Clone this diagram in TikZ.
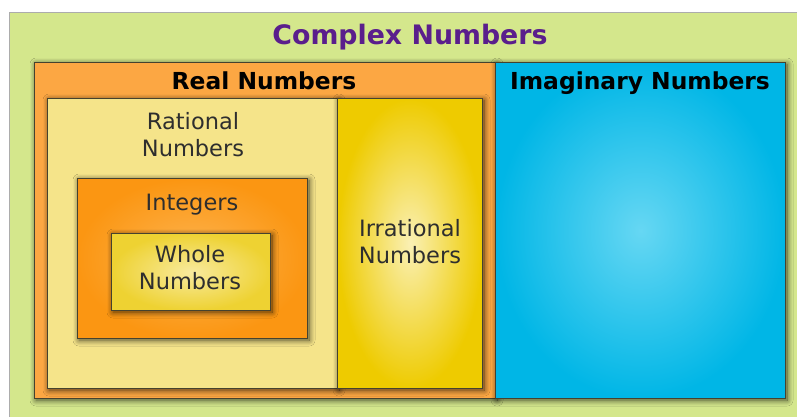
\documentclass[tikz,border=0pt]{standalone}
\usepackage{fontspec}
\setmainfont{DejaVu Sans}
\usetikzlibrary{shadows.blur}
\definecolor{cgreen}{HTML}{D4E78C}
\definecolor{corange}{HTML}{FCA743}
\definecolor{cblueout}{HTML}{00B6E6}
\definecolor{cbluein}{HTML}{66D7F3}
\definecolor{crational}{HTML}{F5E48A}
\definecolor{cirrout}{HTML}{EECB00}
\definecolor{cirrin}{HTML}{FAF0B4}
\definecolor{cintout}{HTML}{FB9612}
\definecolor{cintin}{HTML}{FDB451}
\definecolor{cwholeout}{HTML}{EED232}
\definecolor{cwholein}{HTML}{F8EA9E}
\definecolor{cpurple}{HTML}{5A1E8C}
\definecolor{boxline}{HTML}{45422F}
\definecolor{labeltext}{HTML}{2E2E2E}
\begin{document}
\begin{tikzpicture}[x=1pt,y=-1pt,
  box/.style={draw=boxline, line width=1.1pt, rectangle, anchor=north west, inner sep=0pt,
    blur shadow={shadow xshift=1.5pt, shadow yshift=-1.5pt, shadow blur radius=6pt,
      shadow blur steps=12, shadow opacity=70}},
  lbl/.style={font=\fontsize{22.5}{27}\selectfont, text=labeltext, align=center, inner sep=0pt},
  head/.style={font=\fontsize{23.4}{28}\selectfont\bfseries, inner sep=0pt, anchor=base}]
\useasboundingbox (0,0) rectangle (797,417);
\fill[white] (0,0) rectangle (797,417);
% outer green box
\node[draw=gray!65, fill=cgreen, line width=1.2pt, anchor=north west, inner sep=0pt,
  minimum width=800pt, minimum height=420pt] (complex) at (9,12) {};
% real numbers
\node[box, fill=corange, minimum width=461pt, minimum height=336pt] (real) at (34,62) {};
% imaginary numbers
\node[box, inner color=cbluein, outer color=cblueout, minimum width=290pt, minimum height=336pt] (imag) at (495,62) {};
% rational
\node[box, fill=crational, minimum width=290pt, minimum height=290pt] (rational) at (47,98) {};
% irrational
\node[box, inner color=cirrin, outer color=cirrout, minimum width=145pt, minimum height=290pt] (irrational) at (337,98) {};
% integers
\node[box, inner color=cintin, outer color=cintout, minimum width=230pt, minimum height=160pt] (integers) at (77,178) {};
% whole
\node[box, inner color=cwholein, outer color=cwholeout, minimum width=159pt, minimum height=77pt] (whole) at (111,233) {};
% labels
\node[head, font=\fontsize{26.8}{30}\selectfont\bfseries, text=cpurple] (tcomplex) at (410,45) {Complex Numbers};
\node[head, text=black] (treal) at (264,90) {Real Numbers};
\node[head, text=black] (timag) at (640,90) {Imaginary Numbers};
\node[lbl] (trational) at (193,135) {Rational\\Numbers};
\node[lbl, anchor=base] (tintegers) at (192,210) {Integers};
\node[lbl] (twhole) at (190,268) {Whole\\Numbers};
\node[lbl] (tirrational) at (410,242) {Irrational\\Numbers};
\end{tikzpicture}
\end{document}
